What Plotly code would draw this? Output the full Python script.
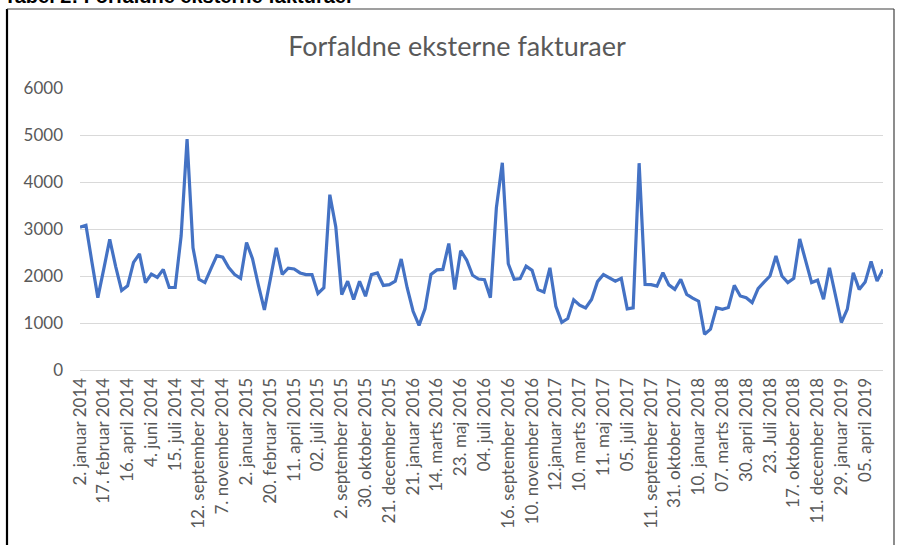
import plotly.graph_objects as go

# ---- data ----
values = [
    3040, 3080, 2300, 1540, 2150, 2780, 2200, 1690, 1790, 2290,
    2470, 1860, 2040, 1970, 2140, 1755, 1755, 2850, 4915, 2600,
    1930, 1860, 2150, 2433, 2400, 2180, 2030, 1950, 2710, 2370,
    1800, 1280, 1930, 2600, 2035, 2165, 2150, 2065, 2030, 2030,
    1627, 1750, 3730, 3050, 1605, 1888, 1500, 1888, 1570, 2030,
    2065, 1800, 1817, 1888, 2362, 1750, 1250, 950, 1300, 2035,
    2130, 2140, 2690, 1710, 2540, 2340, 2015, 1935, 1920, 1540,
    3450, 4410, 2260, 1930, 1945, 2210, 2120, 1710, 1660, 2175,
    1355, 1016, 1095, 1495, 1380, 1322, 1500, 1880, 2030, 1960,
    1890, 1950, 1300, 1322, 4400, 1820, 1817, 1785, 2070, 1812,
    1717, 1930, 1610, 1530, 1464, 760, 868, 1327, 1290, 1330,
    1800, 1575, 1537, 1435, 1730, 1870, 2000, 2425, 2000, 1860,
    1950, 2787, 2340, 1860, 1910, 1505, 2175, 1600, 1010, 1295,
    2070, 1715, 1870, 2310, 1895, 2140,
]

tick_labels = [
    "2. januar 2014", "17. februar 2014", "16. april 2014", "4. juni 2014",
    "15. juli 2014", "12. september 2014", "7. november 2014", "2. januar 2015",
    "20. februar 2015", "11. april 2015", "02. juli 2015", "2. september 2015",
    "30. oktober 2015", "21. december 2015", "21. januar 2016", "14. marts 2016",
    "23. maj 2016", "04. juli 2016", "16. september 2016", "10. november 2016",
    "12.januar 2017", "10. marts 2017", "11. maj 2017", "05. juli 2017",
    "11. september 2017", "31. oktober 2017", "10. januar 2018", "07. marts 2018",
    "30. april 2018", "23. Juli 2018", "17. oktober 2018", "11. december 2018",
    "29. januar 2019", "05. april 2019",
]
label_step = 4

title_text = "Forfaldne eksterne fakturaer"
caption_text = "Tabel 2: Forfaldne eksterne fakturaer"

# ---- figure ----
x_idx = list(range(len(values)))
tick_pos = [i * label_step for i in range(len(tick_labels))]

W, H = 898, 545
L, R, T, B = 80, 15, 88, 175
pw, ph = W - L - R, H - T - B

def px(xp):
    return (xp - L) / pw

def py(yp):
    return 1 - (yp - T) / ph

fig = go.Figure()
fig.add_trace(go.Scatter(
    x=x_idx, y=values, mode="lines",
    line=dict(color="#4472C4", width=3.2),
    hoverinfo="skip", showlegend=False,
))

FONT = "Lato, Liberation Sans, Arial, sans-serif"
GRAY = "#595959"

fig.update_layout(
    width=W, height=H,
    margin=dict(l=L, r=R, t=T, b=B, pad=0),
    paper_bgcolor="white", plot_bgcolor="white",
    font=dict(family=FONT, color=GRAY),
    showlegend=False,
    title=dict(text=title_text, x=457 / W, xanchor="center",
               y=1 - 47 / H, yanchor="middle",
               font=dict(size=27, color=GRAY, family=FONT)),
)

fig.update_xaxes(
    range=[0, len(values) - 1],
    tickmode="array", tickvals=tick_pos, ticktext=tick_labels,
    tickangle=-90, tickfont=dict(size=17, color=GRAY),
    showgrid=False, zeroline=False,
    showline=True, linecolor="#d9d9d9", linewidth=1,
    ticks="", fixedrange=True,
)
fig.update_yaxes(
    range=[0, 6000], dtick=1000, tick0=0,
    tickfont=dict(size=17, color=GRAY),
    showgrid=True, gridcolor="#d9d9d9", gridwidth=1,
    zeroline=False, showline=False, ticks="",
    ticklabelstandoff=16, fixedrange=True,
)

# frame of the surrounding document box
frame = dict(xref="paper", yref="paper", type="line")
fig.add_shape(**frame, x0=px(7), x1=px(7), y0=py(9), y1=py(560),
              line=dict(color="black", width=2.2))
fig.add_shape(**frame, x0=px(7), x1=px(894), y0=py(9), y1=py(9),
              line=dict(color="#404040", width=1.2))
fig.add_shape(**frame, x0=px(894), x1=px(894), y0=py(9), y1=py(560),
              line=dict(color="#404040", width=1.2))

# partially visible document caption at the very top
fig.add_annotation(
    text="<b>" + caption_text + "</b>", xref="paper", yref="paper",
    x=px(2), y=py(9.5), xanchor="left", yanchor="bottom", showarrow=False,
    font=dict(size=20, color="black", family="Liberation Sans, Arial, sans-serif"),
)

fig.write_html(
    "out.html",
    config={"displayModeBar": False},
    post_script="document.body.style.margin='0';document.body.style.overflow='hidden';",
)
